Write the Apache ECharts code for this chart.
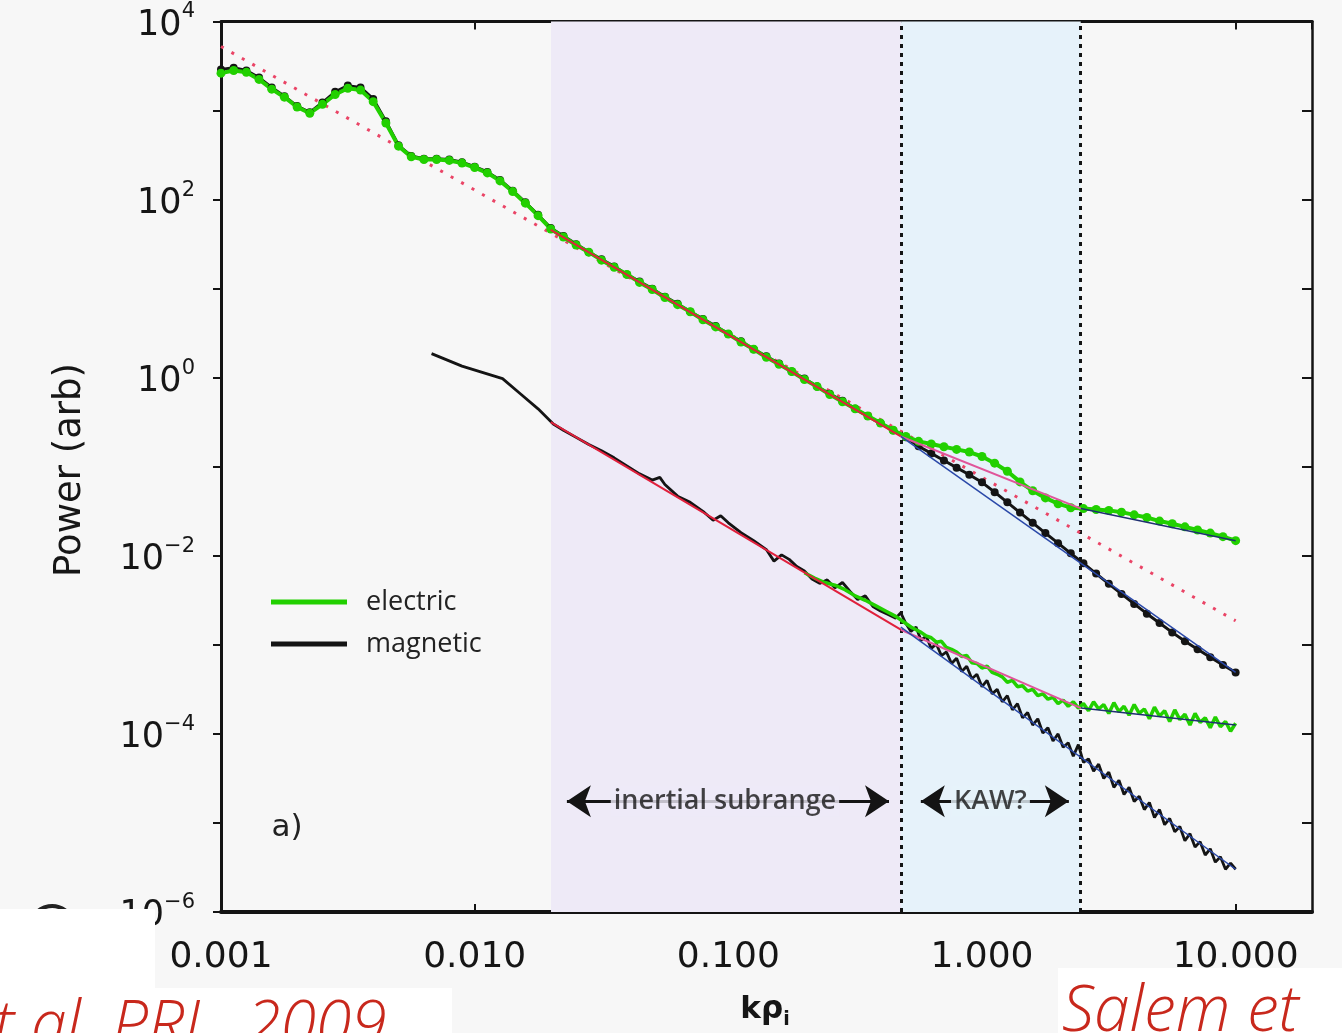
<!DOCTYPE html>
<html>
<head>
<meta charset="utf-8">
<title>Power spectrum vs k rho_i</title>
<script src="https://cdn.jsdelivr.net/npm/echarts@6/dist/echarts.min.js"></script>
<style>
  html, body { margin: 0; padding: 0; background: #f7f7f7; }
  #chart { width: 1342px; height: 1033px; }
</style>
</head>
<body>
<div id="chart"></div>
<script>
// all curves are stored as log10(k rho_i) and log10(power)

// upper pair (electric / magnetic), sampled every 0.05 decade
const upperLogK = [-3.00, -2.95, -2.90, -2.85, -2.80, -2.75, -2.70, -2.65, -2.60, -2.55,
  -2.50, -2.45, -2.40, -2.35, -2.30, -2.25, -2.20, -2.15, -2.10, -2.05,
  -2.00, -1.95, -1.90, -1.85, -1.80, -1.75, -1.70, -1.65, -1.60, -1.55,
  -1.50, -1.45, -1.40, -1.35, -1.30, -1.25, -1.20, -1.15, -1.10, -1.05,
  -1.00, -0.95, -0.90, -0.85, -0.80, -0.75, -0.70, -0.65, -0.60, -0.55,
  -0.50, -0.45, -0.40, -0.35, -0.30, -0.25, -0.20, -0.15, -0.10, -0.05,
  0.00, 0.05, 0.10, 0.15, 0.20, 0.25, 0.30, 0.35, 0.40, 0.45,
  0.50, 0.55, 0.60, 0.65, 0.70, 0.75, 0.80, 0.85, 0.90, 0.95, 1.00];
const upperElectric = [3.42, 3.45, 3.43, 3.35, 3.24, 3.15, 3.04, 2.97, 3.07, 3.18,
  3.25, 3.23, 3.10, 2.86, 2.60, 2.48, 2.45, 2.45, 2.44, 2.41,
  2.36, 2.30, 2.21, 2.09, 1.96, 1.82, 1.67, 1.58, 1.49, 1.41,
  1.32, 1.24, 1.16, 1.07, 0.99, 0.90, 0.82, 0.74, 0.65, 0.57,
  0.49, 0.40, 0.32, 0.23, 0.15, 0.07, -0.02, -0.10, -0.19, -0.27,
  -0.35, -0.43, -0.51, -0.59, -0.66, -0.715, -0.745, -0.775, -0.805, -0.835,
  -0.885, -0.96, -1.05, -1.17, -1.27, -1.35, -1.415, -1.46, -1.47, -1.48,
  -1.49, -1.51, -1.54, -1.57, -1.61, -1.64, -1.675, -1.71, -1.745, -1.785, -1.83];
const upperMagnetic = [3.46, 3.48, 3.45, 3.37, 3.26, 3.16, 3.05, 2.98, 3.09, 3.21,
  3.28, 3.26, 3.13, 2.88, 2.61, 2.49, 2.46, 2.46, 2.45, 2.42,
  2.37, 2.31, 2.22, 2.10, 1.97, 1.83, 1.68, 1.59, 1.50, 1.41,
  1.33, 1.25, 1.16, 1.08, 1.00, 0.91, 0.83, 0.74, 0.66, 0.58,
  0.49, 0.41, 0.32, 0.24, 0.16, 0.07, -0.01, -0.10, -0.18, -0.26,
  -0.35, -0.43, -0.51, -0.59, -0.67, -0.77, -0.85, -0.93, -1.01, -1.09,
  -1.175, -1.285, -1.40, -1.515, -1.63, -1.745, -1.858, -1.972, -2.085, -2.20,
  -2.315, -2.428, -2.54, -2.65, -2.755, -2.86, -2.96, -3.05, -3.14, -3.225, -3.31];

// lower pair: coarse part, then a shared fine grid (0.02 decade) past k rho_i = 0.5
const lowMagCoarseK = [-2.17, -2.05, -1.89, -1.82, -1.75, -1.69, -1.65, -1.60, -1.55, -1.50,
  -1.45, -1.40, -1.35, -1.30, -1.27, -1.25, -1.20, -1.15, -1.10, -1.06,
  -1.03, -1.00, -0.95, -0.90, -0.85, -0.82, -0.79, -0.76, -0.73, -0.70,
  -0.67, -0.64, -0.61, -0.58, -0.55, -0.52, -0.49, -0.46, -0.43, -0.40,
  -0.37, -0.34, -0.32, -0.30];
const lowMagCoarseP = [0.27, 0.13, -0.01, -0.18, -0.35, -0.52, -0.59, -0.67, -0.75, -0.82,
  -0.90, -0.99, -1.08, -1.15, -1.12, -1.20, -1.33, -1.40, -1.50, -1.60,
  -1.55, -1.63, -1.74, -1.83, -1.93, -2.06, -1.99, -2.04, -2.12, -2.17,
  -2.26, -2.31, -2.27, -2.36, -2.30, -2.40, -2.49, -2.45, -2.57, -2.62,
  -2.66, -2.70, -2.64, -2.76];
const lowEleCoarseK = [-0.70, -0.66, -0.62, -0.58, -0.54, -0.50, -0.46, -0.42, -0.38, -0.34, -0.30];
const lowEleCoarseP = [-2.19, -2.25, -2.30, -2.33, -2.38, -2.45, -2.50, -2.56, -2.62, -2.68, -2.76];
const fineLogK = [-0.28, -0.26, -0.24, -0.22, -0.20, -0.18, -0.16, -0.14, -0.12, -0.10,
  -0.08, -0.06, -0.04, -0.02, 0.00, 0.02, 0.04, 0.06, 0.08, 0.10,
  0.12, 0.14, 0.16, 0.18, 0.20, 0.22, 0.24, 0.26, 0.28, 0.30,
  0.32, 0.34, 0.36, 0.38, 0.40, 0.42, 0.44, 0.46, 0.48, 0.50,
  0.52, 0.54, 0.56, 0.58, 0.60, 0.62, 0.64, 0.66, 0.68, 0.70,
  0.72, 0.74, 0.76, 0.78, 0.80, 0.82, 0.84, 0.86, 0.88, 0.90,
  0.92, 0.94, 0.96, 0.98, 1.00];
const lowMagFineP = [-2.85, -2.80, -2.95, -2.90, -3.04, -2.99, -3.12, -3.08, -3.21, -3.15,
  -3.30, -3.24, -3.38, -3.33, -3.47, -3.40, -3.55, -3.50, -3.64, -3.57,
  -3.73, -3.66, -3.82, -3.76, -3.90, -3.83, -3.99, -3.93, -4.08, -4.00,
  -4.15, -4.10, -4.25, -4.12, -4.32, -4.28, -4.42, -4.34, -4.50, -4.43,
  -4.60, -4.52, -4.68, -4.60, -4.76, -4.70, -4.85, -4.77, -4.94, -4.85,
  -5.02, -4.95, -5.10, -5.04, -5.20, -5.12, -5.27, -5.21, -5.36, -5.29,
  -5.44, -5.38, -5.52, -5.45, -5.52];
const lowEleFineP = [-2.80, -2.83, -2.86, -2.90, -2.92, -2.97, -2.96, -3.03, -3.05, -3.08,
  -3.13, -3.12, -3.20, -3.21, -3.26, -3.24, -3.31, -3.33, -3.36, -3.42,
  -3.40, -3.47, -3.46, -3.52, -3.50, -3.57, -3.55, -3.61, -3.59, -3.66,
  -3.62, -3.69, -3.64, -3.71, -3.66, -3.74, -3.64, -3.72, -3.67, -3.77,
  -3.65, -3.75, -3.69, -3.79, -3.67, -3.77, -3.72, -3.83, -3.70, -3.80,
  -3.74, -3.86, -3.73, -3.84, -3.78, -3.90, -3.77, -3.87, -3.82, -3.93,
  -3.81, -3.92, -3.86, -3.97, -3.88];

// fitted lines (end points)
const dottedFitK = [-3.00, 1.00], dottedFitP = [3.72, -2.73];
const upperFitK = [-1.70, -0.32], upperFitP = [1.66, -0.66];
const upperKawK = [-0.32, 0.39], upperKawP = [-0.66, -1.47];
const upperMagFitK = [-0.32, 1.00], upperMagFitP = [-0.66, -3.31];
const upperEleFitK = [0.39, 1.00], upperEleFitP = [-1.47, -1.83];
const lowerFitK = [-1.70, -0.32], lowerFitP = [-0.50, -2.83];
const lowerKawK = [-0.32, 0.39], lowerKawP = [-2.83, -3.71];
const lowerMagFitK = [-0.32, 1.00], lowerMagFitP = [-2.80, -5.52];
const lowerEleFitK = [0.39, 1.00], lowerEleFitP = [-3.71, -3.90];

// ranges and annotations (k rho_i)
const rangeEdges = [0.02, 0.48, 2.45];
const arrowLevel = 1.75e-5;
const inertialArrow = [0.0231, 0.43];
const kawArrow = [0.574, 2.2];
const rangeLabels = ['inertial subrange', 'KAW?'];
const rangeLabelK = [0.097, 1.08];

const toPts = (lk, lp) => lk.map((v, i) => [Math.pow(10, v), Math.pow(10, lp[i])]);

const GREEN = '#22d000';
const BLACK = '#141414';
const RED = '#e0203c';
const PINK = '#e0559a';
const BLUE = '#2a48a8';
const LAVENDER = '#eeeaf7';
const PALEBLUE = '#e6f2fa';

function line(name, data, color, width, extra) {
  return Object.assign({
    name: name, type: 'line', data: data, symbol: 'none', showSymbol: false,
    lineStyle: { color: color, width: width }, itemStyle: { color: color },
    z: 3, silent: true, clip: true
  }, extra || {});
}

function rangeLabel(text, k, bg) {
  return {
    type: 'scatter', z: 8, silent: true, symbolSize: 1, itemStyle: { color: bg },
    label: {
      show: true, position: 'inside', formatter: text, fontFamily: 'Open Sans', fontSize: 27,
      fontWeight: 600, color: '#151515', backgroundColor: bg, padding: [2, 3]
    },
    data: [[k, arrowLevel]]
  };
}

const supMinus = '\u2212';
function yLabel(v) {
  const e = Math.round(Math.log10(v));
  if (e % 2 !== 0) return '';
  return '{b|10}{s|' + (e < 0 ? supMinus : '') + Math.abs(e) + '}';
}
function xLabel(v) {
  const e = Math.log10(v);
  if (Math.abs(e - Math.round(e)) > 1e-6 || v > 15) return '';
  return v.toFixed(3);
}

const chart = echarts.init(document.getElementById('chart'));
const option = {
  animation: false,
  backgroundColor: '#f7f7f7',
  textStyle: { fontFamily: 'DejaVu Sans' },
  grid: { left: 221, right: 30, top: 20, bottom: 121, show: false },
  legend: {
    data: ['electric', 'magnetic'], orient: 'vertical', left: 266, top: 582,
    icon: 'rect', itemWidth: 76, itemHeight: 5, itemGap: 12, selectedMode: false,
    textStyle: { fontFamily: 'Open Sans', fontSize: 27, color: '#222', lineHeight: 30, padding: [0, 0, 0, 14] }
  },
  xAxis: [{
    type: 'log', logBase: 10, min: 0.001, max: 20,
    axisLine: { show: true, lineStyle: { color: BLACK, width: 4 } },
    axisTick: { show: true, inside: true, length: 8, lineStyle: { color: BLACK, width: 2 } },
    splitLine: { show: false },
    axisLabel: { margin: 28, fontSize: 36, color: '#161616', formatter: xLabel, showMaxLabel: false }
  }, {
    type: 'log', logBase: 10, min: 0.001, max: 20, position: 'top',
    axisLine: { show: true, lineStyle: { color: BLACK, width: 3 } },
    axisTick: { show: true, inside: true, length: 8, lineStyle: { color: BLACK, width: 2 } },
    splitLine: { show: false }, axisLabel: { show: false }
  }],
  yAxis: [{
    type: 'log', logBase: 10, min: 1e-6, max: 1e4, interval: 1,
    axisLine: { show: true, lineStyle: { color: BLACK, width: 3 } },
    axisTick: { show: true, inside: false, length: 8, lineStyle: { color: BLACK, width: 2 } },
    splitLine: { show: false },
    axisLabel: {
      margin: 26, formatter: yLabel,
      rich: {
        b: { fontSize: 35, color: '#161616', lineHeight: 40, padding: [8, 0, 0, 0] },
        s: { fontSize: 21, color: '#161616', lineHeight: 22, verticalAlign: 'top' }
      }
    }
  }, {
    type: 'log', logBase: 10, min: 1e-6, max: 1e4, interval: 1, position: 'right',
    axisLine: { show: true, lineStyle: { color: BLACK, width: 2.5 } },
    axisTick: { show: true, inside: true, length: 10, lineStyle: { color: BLACK, width: 2 } },
    splitLine: { show: false }, axisLabel: { show: false }
  }],
  series: [
    {
      type: 'line', data: [], z: 1, silent: true,
      markArea: {
        silent: true,
        data: [
          [{ xAxis: rangeEdges[0], itemStyle: { color: LAVENDER } }, { xAxis: rangeEdges[1] }],
          [{ xAxis: rangeEdges[1], itemStyle: { color: PALEBLUE } }, { xAxis: rangeEdges[2] }]
        ]
      },
      markLine: {
        silent: true, z: 1, symbol: ['none', 'none'], label: { show: false },
        lineStyle: { type: [4, 5], width: 3, color: BLACK },
        data: [{ xAxis: rangeEdges[1] }, { xAxis: rangeEdges[2] }]
      }
    },
    line(null, toPts(dottedFitK, dottedFitP), '#ea4466', 3,
      { lineStyle: { color: '#ea4466', width: 3, type: [3, 9] }, z: 2 }),
    // lower curves
    line('magnetic', toPts(lowMagCoarseK.concat(fineLogK), lowMagCoarseP.concat(lowMagFineP)), BLACK, 2.8),
    line('electric', toPts(lowEleCoarseK.concat(fineLogK), lowEleCoarseP.concat(lowEleFineP)), GREEN, 3.5),
    line(null, toPts(lowerFitK, lowerFitP), RED, 2, { z: 4 }),
    line(null, toPts(lowerKawK, lowerKawP), PINK, 2, { z: 4 }),
    line(null, toPts(lowerMagFitK, lowerMagFitP), BLUE, 1.5, { z: 4 }),
    line(null, toPts(lowerEleFitK, lowerEleFitP), '#1e3070', 1.5, { z: 4 }),
    // upper curves
    line('magnetic', toPts(upperLogK, upperMagnetic), BLACK, 3,
      { symbol: 'circle', showSymbol: true, symbolSize: 8, z: 5 }),
    line('electric', toPts(upperLogK, upperElectric), GREEN, 4,
      { symbol: 'circle', showSymbol: true, symbolSize: 9, z: 5 }),
    line(null, toPts(upperFitK, upperFitP), RED, 2, { z: 6 }),
    line(null, toPts(upperKawK, upperKawP), PINK, 2, { z: 6 }),
    line(null, toPts(upperMagFitK, upperMagFitP), BLUE, 1.5, { z: 6 }),
    line(null, toPts(upperEleFitK, upperEleFitP), '#1e3070', 1.5, { z: 6 }),
    // range arrows and labels
    {
      type: 'line', data: [], z: 7, silent: true,
      markLine: {
        silent: true, z: 7, symbol: ['arrow', 'arrow'], symbolSize: 24, label: { show: false },
        lineStyle: { type: 'solid', width: 3, color: BLACK },
        data: [
          [{ coord: [inertialArrow[0], arrowLevel] }, { coord: [inertialArrow[1], arrowLevel] }],
          [{ coord: [kawArrow[0], arrowLevel] }, { coord: [kawArrow[1], arrowLevel] }]
        ]
      }
    },
    rangeLabel(rangeLabels[0], rangeLabelK[0], LAVENDER),
    rangeLabel(rangeLabels[1], rangeLabelK[1], PALEBLUE)
  ],
  graphic: [
    { type: 'text', x: 70, y: 470, rotation: Math.PI / 2, z: 10,
      style: { text: 'Power (arb)', fontSize: 37, fontFamily: 'DejaVu Sans', fill: '#161616', align: 'center', verticalAlign: 'middle' } },
    { type: 'text', x: 765, y: 1010, z: 10,
      style: { text: '{k|kρ}{i|i}', align: 'center', verticalAlign: 'middle',
        rich: {
          k: { fontSize: 31, fontWeight: 'bold', fontFamily: 'DejaVu Sans', fill: '#161616', lineHeight: 40 },
          i: { fontSize: 19, fontWeight: 'bold', fontFamily: 'DejaVu Sans', fill: '#161616', lineHeight: 22, verticalAlign: 'bottom' }
        } } },
    { type: 'text', x: 287, y: 828, z: 10,
      style: { text: 'a)', fontSize: 31, fontFamily: 'DejaVu Sans', fill: '#222', align: 'center', verticalAlign: 'middle' } },
    { type: 'arc', z: 99, shape: { cx: 52, cy: 928, r: 22, startAngle: Math.PI * 1.2, endAngle: Math.PI * 1.8 },
      style: { stroke: '#222', lineWidth: 4, fill: null } },
    { type: 'rect', z: 100, shape: { x: 0, y: 909, width: 155, height: 80 }, style: { fill: '#ffffff' } },
    { type: 'rect', z: 100, shape: { x: 0, y: 988, width: 452, height: 45 }, style: { fill: '#ffffff' } },
    { type: 'rect', z: 100, shape: { x: 1058, y: 968, width: 284, height: 65 }, style: { fill: '#ffffff' } },
    { type: 'text', x: -6, y: 1028, z: 101,
      style: { text: 't al. PRL, 2009', fontSize: 64, fontFamily: 'Open Sans', fontStyle: 'italic', fontWeight: 300,
        fill: '#c8281c', align: 'left', verticalAlign: 'middle' } },
    { type: 'text', x: 1062, y: 1013, z: 101,
      style: { text: 'Salem et', fontSize: 64, fontFamily: 'Open Sans', fontStyle: 'italic', fontWeight: 300,
        fill: '#c8281c', align: 'left', verticalAlign: 'middle' } }
  ]
};
chart.setOption(option);
</script>
</body>
</html>
